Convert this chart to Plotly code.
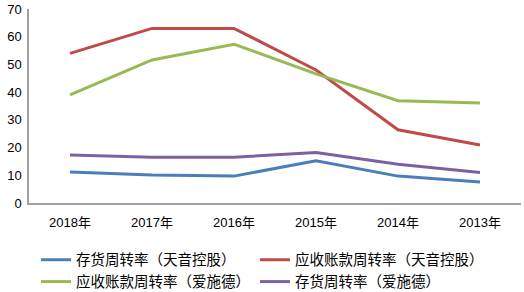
import plotly.graph_objects as go

years = ["2018年", "2017年", "2016年", "2015年", "2014年", "2013年"]
inv_tianyin = [11.2, 10.1, 9.7, 15.2, 9.7, 7.6]
ar_tianyin = [54.0, 63.0, 63.0, 48.0, 26.4, 20.9]
ar_aishide = [39.0, 51.6, 57.3, 46.6, 36.9, 36.1]
inv_aishide = [17.3, 16.5, 16.5, 18.2, 14.0, 11.0]

names = ["存货周转率（天音控股）", "应收账款周转率（天音控股）",
         "应收账款周转率（爱施德）", "存货周转率（爱施德）"]
colors = ["#4a7ebb", "#be4b48", "#98b954", "#7d60a0"]
series = [inv_tianyin, ar_tianyin, ar_aishide, inv_aishide]

fig = go.Figure()
for n, c, s in zip(names, colors, series):
    fig.add_trace(go.Scatter(x=years, y=s, name=n, mode="lines",
                             line=dict(color=c, width=3)))

font_fam = "Liberation Sans, Noto Sans CJK SC, sans-serif"
fig.update_layout(
    width=524, height=292,
    margin=dict(l=29, r=3, t=9, b=89, autoexpand=False),
    plot_bgcolor="white", paper_bgcolor="white",
    font=dict(family=font_fam, size=13, color="black"),
    showlegend=True,
    legend=dict(orientation="h", x=7 / 492, xref="paper", xanchor="left",
                yref="container", y=0.165, yanchor="top",
                entrywidth=174, entrywidthmode="pixels",
                font=dict(size=14.5, family="Noto Sans CJK SC, sans-serif"),
                tracegroupgap=0, itemwidth=30, bgcolor="rgba(0,0,0,0)"),
    xaxis=dict(range=[-0.5, 5.5], showline=True, linecolor="#a0a0a0", linewidth=1.5,
               showgrid=False, ticks="", tickfont=dict(size=13),
               ticklabelstandoff=7),
    yaxis=dict(range=[0, 70], dtick=10, showline=True, linecolor="#a0a0a0",
               linewidth=1.5, showgrid=False, zeroline=False, ticks="",
               tickfont=dict(size=13), ticklabelstandoff=3),
)
fig.write_html("out.html", config={"displayModeBar": False},
               post_script="document.body.style.margin='0px';")
